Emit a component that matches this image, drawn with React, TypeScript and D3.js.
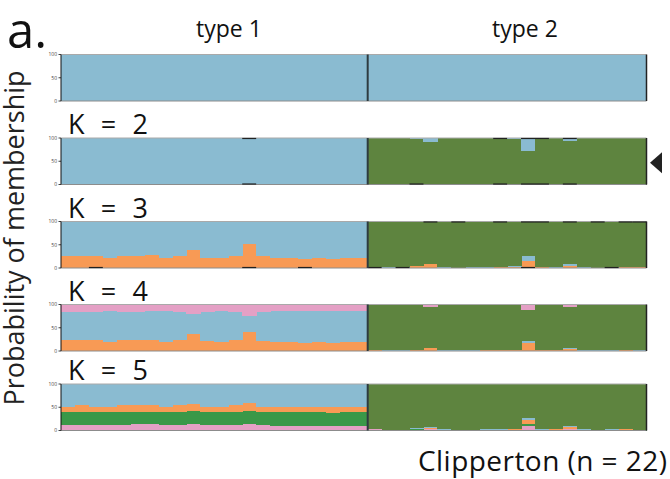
import * as d3 from 'd3';

// 22 individuals of type 1, 20 of type 2
const TYPE1 = 22;
const TYPE2 = 20;
const GROUPS = ['type 1', 'type 2'];
const TICKS = [0, 50, 100];

const COLORS: Record<string, string> = {
  blue: '#8abbd1',
  olive: '#5e843f',
  orange: '#f89a55',
  pink: '#e4a0c5',
  green: '#3a9848',
};

// membership (%) per cluster, type 1 then type 2, stacked bottom -> top
const k1Blue = [
  100, 100, 100, 100, 100, 100, 100, 100, 100, 100, 100, 100, 100, 100, 100, 100, 100, 100, 100, 100, 100, 100,
  100, 100, 100, 100, 100, 100, 100, 100, 100, 100, 100, 100, 100, 100, 100, 100, 100, 100, 100, 100,
];

const k2Olive = [
  0, 0, 0, 0, 0, 0, 0, 0, 0, 0, 0, 0, 0, 0, 0, 0, 0, 0, 0, 0, 0, 0,
  99, 99, 99, 97, 92, 99, 99, 99, 99, 98, 98, 73, 99, 99, 94, 99, 99, 99, 99, 99,
];
const k2Blue = [
  100, 100, 100, 100, 100, 100, 100, 100, 100, 100, 100, 100, 100, 100, 100, 100, 100, 100, 100, 100, 100, 100,
  1, 1, 1, 3, 8, 1, 1, 1, 1, 2, 2, 27, 1, 1, 6, 1, 1, 1, 1, 1,
];

const k3Orange = [
  26, 26, 25, 22, 26, 25, 29, 22, 26, 39, 22, 22, 25, 51, 25, 22, 22, 20, 22, 20, 22, 22,
  0, 1, 0, 4, 8, 0, 1, 0, 0, 3, 3, 16, 3, 1, 5, 0, 1, 0, 3, 2,
];
const k3Blue = [
  74, 74, 75, 78, 74, 75, 71, 78, 74, 61, 78, 78, 75, 49, 75, 78, 78, 80, 78, 80, 78, 78,
  2, 2, 2, 1, 1, 2, 0, 2, 2, 0, 2, 9, 0, 2, 3, 2, 0, 2, 0, 0,
];
const k3Olive = [
  0, 0, 0, 0, 0, 0, 0, 0, 0, 0, 0, 0, 0, 0, 0, 0, 0, 0, 0, 0, 0, 0,
  98, 97, 98, 95, 91, 98, 99, 98, 98, 97, 95, 75, 97, 97, 92, 98, 99, 98, 97, 98,
];

const k4Orange = [
  24, 24, 23, 19, 24, 24, 24, 19, 24, 36, 21, 19, 24, 41, 21, 19, 19, 17, 19, 17, 19, 19,
  2, 0, 0, 2, 6, 0, 0, 0, 2, 2, 2, 18, 2, 2, 4, 0, 0, 0, 2, 0,
];
const k4Blue = [
  60, 60, 60, 67, 60, 60, 62, 67, 59, 44, 63, 68, 60, 35, 63, 68, 68, 70, 68, 70, 68, 68,
  0, 2, 2, 0, 0, 2, 2, 2, 0, 0, 0, 3, 0, 0, 2, 2, 2, 2, 0, 2,
];
const k4Olive = [
  0, 0, 0, 1, 0, 0, 0, 1, 0, 0, 0, 0, 0, 0, 0, 0, 0, 0, 0, 0, 0, 0,
  96, 96, 96, 96, 89, 96, 96, 96, 96, 96, 96, 68, 96, 96, 89, 96, 96, 96, 96, 96,
];
const k4Pink = [
  16, 16, 17, 13, 16, 16, 14, 13, 17, 20, 16, 13, 16, 24, 16, 13, 13, 13, 13, 13, 13, 13,
  2, 2, 2, 2, 5, 2, 2, 2, 2, 2, 2, 11, 2, 2, 5, 2, 2, 2, 2, 2,
];

const k5Pink = [
  11, 11, 11, 11, 11, 13, 13, 11, 11, 13, 11, 11, 11, 15, 11, 9, 9, 9, 9, 9, 9, 9,
  3, 0, 0, 2, 4, 0, 0, 0, 2, 2, 2, 9, 2, 2, 4, 0, 0, 0, 2, 0,
];
const k5Green = [
  28, 28, 28, 28, 28, 26, 26, 28, 28, 28, 28, 28, 28, 28, 28, 30, 30, 30, 30, 28, 30, 30,
  0, 1, 1, 1, 0, 1, 2, 1, 0, 0, 0, 4, 0, 0, 0, 1, 2, 1, 0, 2,
];
const k5Orange = [
  12, 15, 12, 12, 15, 15, 15, 12, 15, 15, 12, 12, 15, 16, 12, 12, 12, 11, 12, 13, 11, 12,
  0, 0, 0, 0, 2, 0, 0, 0, 0, 0, 2, 9, 0, 2, 3, 0, 0, 0, 2, 0,
];
const k5Blue = [
  49, 46, 49, 49, 46, 46, 46, 49, 46, 44, 49, 49, 46, 41, 49, 49, 49, 50, 49, 50, 50, 49,
  0, 1, 1, 2, 2, 2, 0, 1, 1, 2, 0, 4, 2, 0, 2, 2, 0, 2, 0, 0,
];
const k5Olive = [
  0, 0, 0, 0, 0, 0, 0, 0, 0, 0, 0, 0, 0, 0, 0, 0, 0, 0, 0, 0, 0, 0,
  97, 98, 98, 95, 92, 97, 98, 98, 97, 96, 96, 74, 96, 96, 91, 97, 98, 97, 96, 98,
];

const PANELS: { k: number; layers: [string, number[]][] }[] = [
  { k: 1, layers: [['blue', k1Blue]] },
  { k: 2, layers: [['olive', k2Olive], ['blue', k2Blue]] },
  { k: 3, layers: [['orange', k3Orange], ['blue', k3Blue], ['olive', k3Olive]] },
  { k: 4, layers: [['orange', k4Orange], ['blue', k4Blue], ['olive', k4Olive], ['pink', k4Pink]] },
  { k: 5, layers: [['pink', k5Pink], ['green', k5Green], ['orange', k5Orange], ['blue', k5Blue], ['olive', k5Olive]] },
];

// dark separator marks left by the plotting program (individual index)
const MARKS_TOP: Record<number, number[]> = {
  2: [13, 31, 33, 34, 36],
  3: [26, 28, 31, 33, 34, 36, 38, 40, 41],
};
const MARKS_BOTTOM: Record<number, number[]> = {
  2: [13, 25, 31, 33, 34, 36],
  3: [2, 13, 17, 22, 24, 33, 39],
};

const W = 670;
const H = 479;
const X0 = 61;
const X1 = 646.5;
const PANEL_TOP = [54.5, 138, 221.5, 304.5, 384];
const PANEL_H = 46.5;
const FONT = '"Open Sans", "Noto Sans", sans-serif';

export default function App() {
  const ids = d3.range(TYPE1 + TYPE2);
  const x = d3.scaleBand<number>().domain(ids).range([X0, X1]).paddingInner(0);
  const xSplit = x(TYPE1)!;

  return (
    <svg
      width={W}
      height={H}
      style={{ position: 'absolute', left: 0, top: 0, background: '#fff' }}
      fontFamily={FONT}
    >
      <text x={7} y={48} fontSize={49} fill="#111">a.</text>
      <text x={229} y={37} fontSize={23} textAnchor="middle" fill="#111">{GROUPS[0]}</text>
      <text x={525} y={37} fontSize={23} textAnchor="middle" fill="#111">{GROUPS[1]}</text>

      <text
        transform="translate(24,238) rotate(-90)"
        fontSize={27}
        textAnchor="middle"
        fill="#222"
      >
        Probability of membership
      </text>

      {PANELS.map((p, pi) => {
        const top = PANEL_TOP[pi];
        const y = d3.scaleLinear([0, 100], [top + PANEL_H, top]);
        const keys = p.layers.map(l => l[0]);
        const rows = ids.map(i => {
          const r: Record<string, number> = {};
          p.layers.forEach(([name, vals]) => (r[name] = vals[i]));
          return r;
        });
        const series = d3.stack<Record<string, number>>().keys(keys)(rows);
        const bw = x.bandwidth();
        return (
          <g key={p.k}>
            {p.k > 1 && (
              <text x={68} y={top - 4} fontSize={27} fill="#111" textLength={80} lengthAdjust="spacing">{`K = ${p.k}`}</text>
            )}
            <g shapeRendering="crispEdges">
              {series.map(s =>
                s.map((d, i) => {
                  const h = y(d[0]) - y(d[1]);
                  if (h <= 0) return null;
                  return (
                    <rect
                      key={`${s.key}-${i}`}
                      x={x(i)}
                      y={y(d[1])}
                      width={bw + 0.5}
                      height={h}
                      fill={COLORS[s.key]}
                    />
                  );
                }),
              )}
            </g>
            {/* borders */}
            <line x1={X0} x2={X1} y1={top} y2={top} stroke="#a9a9a9" strokeWidth={1} />
            <line x1={X0} x2={X1} y1={top + PANEL_H} y2={top + PANEL_H} stroke="#8c8c8c" strokeWidth={1} />
            {(MARKS_TOP[p.k] || []).map(i => (
              <line key={`t${i}`} x1={x(i)} x2={x(i)! + bw} y1={top + 0.5} y2={top + 0.5} stroke="#222" strokeWidth={1.2} />
            ))}
            {(MARKS_BOTTOM[p.k] || []).map(i => (
              <line key={`b${i}`} x1={x(i)} x2={x(i)! + bw} y1={top + PANEL_H - 0.5} y2={top + PANEL_H - 0.5} stroke="#222" strokeWidth={1.2} />
            ))}
            <line x1={xSplit} x2={xSplit} y1={top} y2={top + PANEL_H} stroke="#2e3b40" strokeWidth={2} />
            <line x1={X1} x2={X1} y1={top} y2={top + PANEL_H} stroke="#222" strokeWidth={1.5} />
            {/* y axis */}
            <line x1={X0} x2={X0} y1={top} y2={top + PANEL_H} stroke="#111" strokeWidth={1} />
            {TICKS.map(t => (
              <g key={t}>
                <line x1={X0 - 2.5} x2={X0} y1={y(t)} y2={y(t)} stroke="#111" strokeWidth={0.8} />
                <text x={X0 - 4} y={y(t) + 1.8} fontSize={5} textAnchor="end" fill="#444">{t}</text>
              </g>
            ))}
          </g>
        );
      })}

      {/* marker for the selected K */}
      <path
        d={d3.symbol(d3.symbolTriangle, 120)() ?? ''}
        transform={`translate(658,${PANEL_TOP[1] + PANEL_H / 2 + 1.5}) scale(0.83,1.26) rotate(-90)`}
        fill="#222"
      />

      <text x={667} y={471} fontSize={28} textAnchor="end" fill="#111" textLength={249} lengthAdjust="spacing">Clipperton (n = 22)</text>
    </svg>
  );
}
